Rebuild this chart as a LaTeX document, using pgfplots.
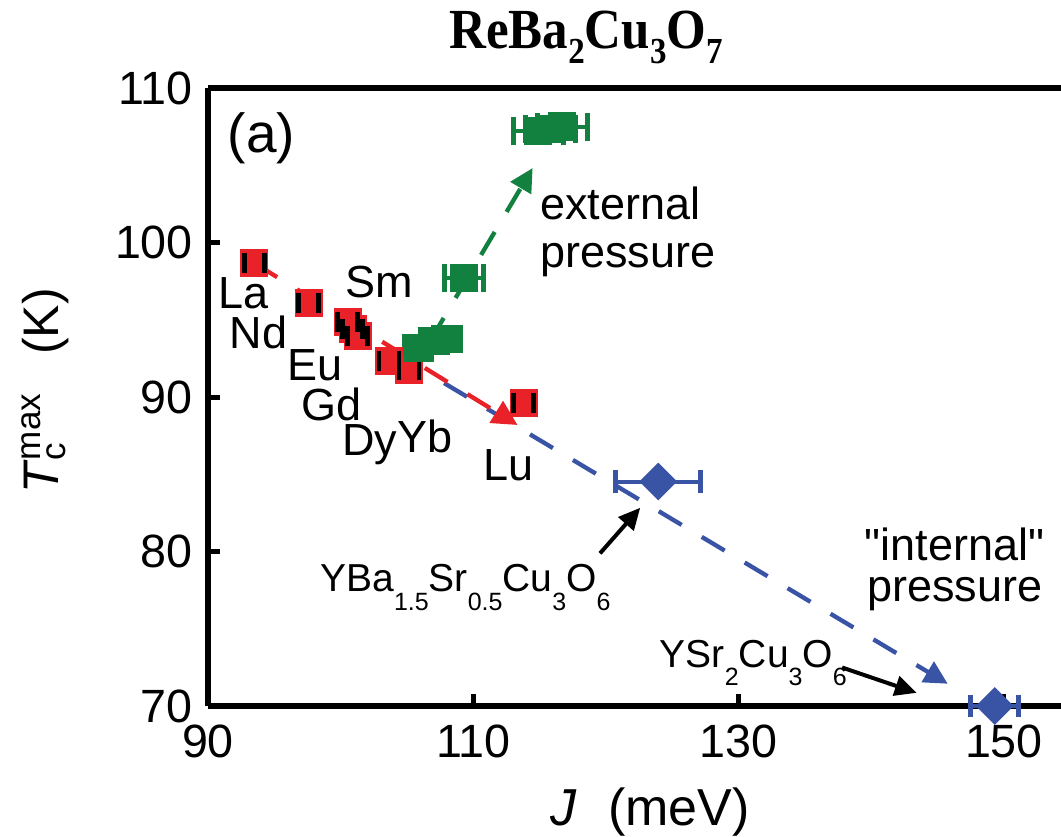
\documentclass[border=0pt]{standalone}
\usepackage{fontspec}
\setmainfont{Liberation Sans}
\newfontfamily\titlefont{Liberation Serif}
\newfontfamily\plainsans{Liberation Sans}[Ligatures=TeXOff]
\usepackage{pgfplots}
\pgfplotsset{compat=1.18}
\usetikzlibrary{arrows.meta,calc}

\definecolor{rered}{RGB}{232,34,40}
\definecolor{prgreen}{RGB}{18,128,62}
\definecolor{inblue}{RGB}{58,84,165}

\newcommand{\fsz}[1]{\fontsize{#1}{#1}\selectfont}
\newcommand{\sub}[1]{\raisebox{-5.5pt}{\fsz{7.5}#1}}
\newcommand{\tsub}[1]{\raisebox{-4.5pt}{\fsz{11}#1}}
\newcommand{\dq}{{\plainsans"}}

\begin{document}
\begin{tikzpicture}
\begin{axis}[
  scale only axis, width=255.9pt, height=185.4pt,
  xmin=90, xmax=154.3, ymin=70, ymax=110,
  axis x line*=box, axis y line*=left,
  xtick={90,110,130,150}, ytick={70,80,90,100,110},
  xtick pos=bottom, ytick pos=left,
  tick align=inside, major tick length=3.6pt,
  tick style={black, line width=1.5pt},
  axis line style={black, line width=1.8pt},
  ticklabel style={font=\fsz{14}, /pgf/number format/assume math mode=true},
  xticklabel style={yshift=-2pt},
  yticklabel style={xshift=-1pt},
  clip=false,
]
\coordinate (bl) at (rel axis cs:0,0);
\coordinate (tr) at (rel axis cs:1,1);

% trend guides
\addplot[inblue, mark=none, line width=1.3pt, dash pattern=on 8pt off 7pt,
  -{Triangle[length=7pt,width=7pt]}] coordinates {(107.8,90.9) (145.76,71.44)};
\addplot[rered, mark=none, line width=1.3pt, dash pattern=on 8pt off 7pt,
  -{Triangle[length=7.5pt,width=7.5pt]}] coordinates {(93.5,98.66) (113.33,88.19)};
\addplot[prgreen, mark=none, line width=1.3pt, dash pattern=on 8pt off 7pt,
  -{Triangle[length=7pt,width=7pt]}] coordinates {(106.74,93.63) (114.47,104.82)};

% ReBa2Cu3O7, rare-earth series (error +-0.75 meV)
\addplot[only marks, mark=square*, mark size=4.05pt,
  mark options={fill=rered, draw=rered, line width=0.3pt}] coordinates {
  (93.5,98.66) (97.58,96.11) (100.53,94.87) (100.91,94.41) (101.29,93.95)
  (103.64,92.32) (105.15,91.73) (113.79,89.63)};
% their error bars (J -+ 0.75), drawn over the squares
\addplot[black, line width=1pt, unbounded coords=jump,
  mark=|, mark size=3pt, mark options={line width=1.4pt}] coordinates {
  (92.75,98.66) (94.25,98.66) (nan,nan)
  (96.83,96.11) (98.33,96.11) (nan,nan)
  (99.78,94.87) (101.28,94.87) (nan,nan)
  (100.16,94.41) (101.66,94.41) (nan,nan)
  (100.54,93.95) (102.04,93.95) (nan,nan)
  (102.89,92.32) (104.39,92.32) (nan,nan)
  (104.40,91.73) (105.90,91.73) (nan,nan)
  (113.04,89.63) (114.54,89.63)};

% external pressure
\addplot[only marks, mark=square*, mark size=4.05pt,
  mark options={fill=prgreen, draw=prgreen},
  error bars/.cd, x dir=both, x explicit, error mark=|,
  error bar style={prgreen, line width=1.2pt},
  error mark options={prgreen, mark size=4.2pt, line width=1.5pt}] coordinates {
  (105.83,93.17) +- (1.0,0) (107.05,93.63) +- (1.0,0) (108.03,93.76) +- (1.0,0)
  (109.3,97.7) +- (1.5,0)
  (114.9,107.2) +- (1.9,0) (115.8,107.35) +- (1.9,0) (116.7,107.5) +- (1.9,0)};

% "internal" pressure
\addplot[only marks, mark=square*, mark size=3.8pt,
  mark options={fill=inblue, draw=inblue, rotate=45},
  error bars/.cd, x dir=both, x explicit, error mark=|,
  error bar style={inblue, line width=1.2pt},
  error mark options={inblue, mark size=3.4pt, line width=1.5pt, rotate=0}] coordinates {
  (123.94,84.53) +- (3.2,0) (149.3,70.0) +- (1.8,0)};

% labels
\node[font=\fsz{16.5}] at (axis cs:94.02,106.72) {(a)};
\begin{scope}[every node/.style={anchor=base, inner sep=0pt, font=\fsz{13.5}}]
\node at (axis cs:92.65,95.72) {La};
\node at (axis cs:93.79,93.17) {Nd};
\node at (axis cs:102.88,96.44) {Sm};
\node at (axis cs:98.03,91.05) {Eu};
\node at (axis cs:99.32,88.45) {Gd};
\node at (axis cs:102.2,86.23) {Dy};
\node at (axis cs:106.36,86.43) {Yb};
\node at (axis cs:112.65,84.59) {Lu};
\node[anchor=base west] at (axis cs:115.0,101.48) {external};
\node[anchor=base west] at (axis cs:115.0,98.40) {pressure};
\node at (axis cs:146.29,79.42) {\dq internal\dq};
\node at (axis cs:146.29,76.74) {pressure};
\end{scope}
\node[anchor=base west, font=\fsz{11.7}] at (axis cs:97.58,77.40)
  {YBa\sub{1.5}Sr\sub{0.5}Cu\sub{3}O\sub{6}};
\node[anchor=base west, font=\fsz{11.7}] at (axis cs:123.18,72.49)
  {YSr\sub{2}Cu\sub{3}O\sub{6}};
\draw[black, line width=1.2pt, -{Triangle[length=6.5pt,width=6pt]}]
  (axis cs:119.55,79.88) -- (axis cs:122.58,82.83);
\draw[black, line width=1.2pt, -{Triangle[length=6.5pt,width=6pt]}]
  (axis cs:137.8,72.49) -- (axis cs:143.41,70.85);

% axis titles
\node[anchor=base, font=\fsz{15.6}] at (axis cs:123.33,62.28) {\textit{J}\hspace{0.6em}(meV)};
\node[rotate=90, font=\fsz{15}] at (axis cs:77.73,90.4)
  {\textit{T}\rlap{\textsubscript{c}}\textsuperscript{max}\hspace{0.75em}(K)};
\end{axis}
\node[anchor=base, xscale=0.9, font=\titlefont\bfseries\fsz{17}] at ($(bl|-tr)+(113.4pt,12pt)$)
  {ReBa\tsub{2}Cu\tsub{3}O\tsub{7}};
\pgfresetboundingbox
\path[use as bounding box] ($(bl)+(-62.4pt,-39.3pt)$) rectangle ($(tr)+(0,26.4pt)$);
\end{tikzpicture}
\end{document}
